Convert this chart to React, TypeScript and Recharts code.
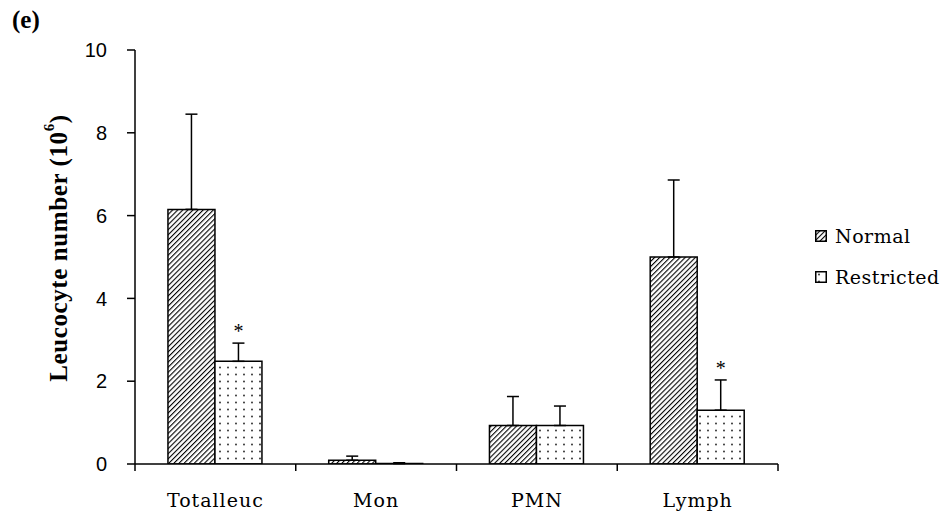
import {
  BarChart, Bar, XAxis, YAxis, ErrorBar, LabelList, Legend,
} from 'recharts';

const categories = ['Totalleuc', 'Mon', 'PMN', 'Lymph'];
const normalValues = [6.15, 0.09, 0.93, 5.0];
const normalErrors = [2.3, 0.1, 0.7, 1.86];
const restrictedValues = [2.48, 0.01, 0.93, 1.3];
const restrictedErrors = [0.44, 0.02, 0.47, 0.73];
const significant = [true, false, false, true];
const yTicks = [0, 2, 4, 6, 8, 10];

const data = categories.map((name, i) => ({
  name,
  normal: normalValues[i],
  normalErr: [0, normalErrors[i]],
  restricted: restrictedValues[i],
  restrictedErr: [0, restrictedErrors[i]],
  sig: significant[i],
}));

const serif = '"DejaVu Serif", serif';

function CategoryTick(props: any) {
  const { x, y, payload, index } = props;
  const half = payload?.offset ?? 80;
  return (
    <g>
      <line x1={x - half} y1={y - 8} x2={x - half} y2={y - 1} stroke="#000" strokeWidth={1.5} />
      {index === categories.length - 1 && (
        <line x1={x + half} y1={y - 8} x2={x + half} y2={y - 1} stroke="#000" strokeWidth={1.5} />
      )}
      <text x={x} y={y + 35} textAnchor="middle" fontFamily={serif} fontSize={19} letterSpacing={1} fill="#000">
        {payload.value}
      </text>
    </g>
  );
}

function YLabel(props: any) {
  const vb = props.viewBox || { x: 0, y: 50, width: 135, height: 414 };
  const cx = vb.x + 58;
  const cy = vb.y + vb.height / 2 - 9;
  return (
    <text
      x={cx}
      y={cy}
      transform={`rotate(-90, ${cx}, ${cy})`}
      textAnchor="middle"
      dominantBaseline="central"
      fontFamily='"Liberation Serif", serif'
      fontWeight="bold"
      fontSize={25}
      letterSpacing={0.6}
      fill="#000"
    >
      Leucocyte number (10<tspan dy={-9} fontSize={15}>6</tspan><tspan dy={9}>)</tspan>
    </text>
  );
}

function Star(props: any) {
  const { x, y, width, height, value, index } = props;
  if (!significant[index] || !value) return null;
  const perUnit = height / value;
  const errTop = y - restrictedErrors[index] * perUnit;
  return (
    <text x={x + width / 2} y={errTop - 5} textAnchor="middle" fontFamily='"Liberation Serif", serif' fontSize={20} fill="#000">
      *
    </text>
  );
}

function LegendBox() {
  const row = { display: 'flex', alignItems: 'center', height: 20, marginBottom: 21 } as const;
  const text = { fontFamily: serif, fontSize: 19, letterSpacing: 0.5, color: '#000', marginLeft: 8 } as const;
  return (
    <div>
      <div style={row}>
        <svg width={12} height={12}><rect x={0.75} y={0.75} width={10.5} height={10.5} fill="url(#hatch)" stroke="#000" strokeWidth={1.5} /></svg>
        <span style={text}>Normal</span>
      </div>
      <div style={row}>
        <svg width={12} height={12}><rect x={0.75} y={0.75} width={10.5} height={10.5} fill="url(#dots)" stroke="#000" strokeWidth={1.5} /></svg>
        <span style={text}>Restricted</span>
      </div>
    </div>
  );
}

export default function App() {
  return (
    <div style={{ position: 'absolute', left: 0, top: 0, width: 945, height: 518, background: '#fff' }}>
      <svg width={0} height={0} style={{ position: 'absolute' }}>
        <defs>
          <pattern id="hatch" patternUnits="userSpaceOnUse" width={3.6} height={3.6} patternTransform="rotate(45)">
            <rect width={3.6} height={3.6} fill="#fff" />
            <line x1={0} y1={0} x2={0} y2={3.6} stroke="#000" strokeWidth={2.2} />
          </pattern>
          <pattern id="dots" patternUnits="userSpaceOnUse" width={8} height={7}>
            <rect width={8} height={7} fill="#fff" />
            <circle cx={4} cy={3.5} r={0.9} fill="#222" />
          </pattern>
        </defs>
      </svg>
      <div style={{ position: 'absolute', left: 12, top: 6, fontFamily: '"Liberation Serif", serif', fontWeight: 'bold', fontSize: 25 }}>
        (e)
      </div>
      <BarChart
        width={945}
        height={518}
        data={data}
        margin={{ top: 50, right: 167, bottom: 0, left: 0 }}
        barGap={0}
        barCategoryGap="20.5%"
      >
        <XAxis
          dataKey="name"
          height={54}
          axisLine={{ stroke: '#000', strokeWidth: 1.5 }}
          tickLine={false}
          tick={<CategoryTick />}
          interval={0}
        />
        <YAxis
          width={135}
          domain={[0, 10]}
          ticks={yTicks}
          allowDataOverflow
          axisLine={{ stroke: '#000', strokeWidth: 1.5 }}
          tickLine={{ stroke: '#000', strokeWidth: 1.5 }}
          tickSize={8}
          tickMargin={20}
          tick={{ fontFamily: '"Liberation Sans", sans-serif', fontSize: 20, fill: '#000' }}
          label={<YLabel />}
        />
        <Legend
          layout="horizontal"
          verticalAlign="middle"
          align="center"
          wrapperStyle={{ position: 'absolute', left: 815, top: 226, width: 130 }}
          content={<LegendBox />}
        />
        <Bar dataKey="normal" name="Normal" fill="url(#hatch)" stroke="#000" strokeWidth={1.5} isAnimationActive={false}>
          <ErrorBar dataKey="normalErr" width={6} stroke="#000" strokeWidth={1.5} isAnimationActive={false} />
        </Bar>
        <Bar dataKey="restricted" name="Restricted" fill="url(#dots)" stroke="#000" strokeWidth={1.5} isAnimationActive={false}>
          <ErrorBar dataKey="restrictedErr" width={6} stroke="#000" strokeWidth={1.5} isAnimationActive={false} />
          <LabelList dataKey="restricted" content={<Star />} />
        </Bar>
      </BarChart>
    </div>
  );
}
